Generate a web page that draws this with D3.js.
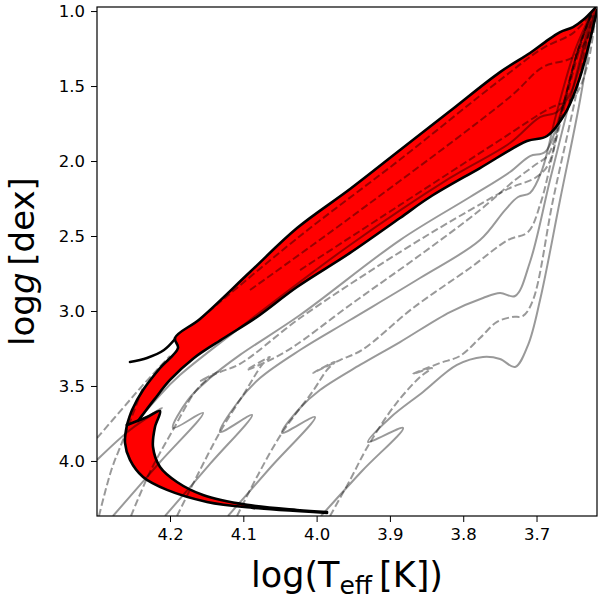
<!DOCTYPE html>
<html><head><meta charset="utf-8">
<script src="https://cdn.jsdelivr.net/npm/d3@7"></script>
<style>body{margin:0;background:#fff}svg{display:block}text{font-family:"DejaVu Sans",sans-serif;fill:#000}</style>
</head><body><svg id="c" width="598" height="601"></svg>
<script>
// ---- axis ticks ----
const xTicks = [4.2, 4.1, 4.0, 3.9, 3.8, 3.7];
const yTicks = [1.0, 1.5, 2.0, 2.5, 3.0, 3.5, 4.0];
const xLimits = [4.2996, 3.6175];
const yLimits = [0.973, 4.367];

// ---- red band boundaries (logTeff, logg) ----
const edgeOuterUpper = [[4.2587,3.760],[4.2518,3.660],[4.2368,3.527],[4.2136,3.380],[4.1891,3.247],[4.1932,3.180],[4.1591,3.053],[4.0909,2.740],[4.0267,2.447],[3.9544,2.187],[3.8862,1.927],[3.8180,1.667],[3.7498,1.407],[3.7089,1.280],[3.6884,1.207],[3.6679,1.140],[3.6502,1.107],[3.6366,1.060],[3.6202,0.980]];
const edgeInnerUpper = [[3.6175,0.993],[3.6270,1.193],[3.6406,1.440],[3.6584,1.660],[3.6857,1.833],[3.7130,1.867],[3.7771,2.047],[3.8453,2.240],[3.8862,2.380],[3.9544,2.613],[4.0267,2.840],[4.0813,3.040],[4.1263,3.180],[4.1673,3.313],[4.2000,3.460],[4.2218,3.593],[4.2355,3.680],[4.2437,3.733]];
const edgeLowerInner = [[4.2587,3.760],[4.2314,3.707],[4.2136,3.667],[4.2205,3.773],[4.2232,3.907],[4.2136,4.040],[4.1905,4.140],[4.1550,4.227],[4.0950,4.293],[4.0267,4.327],[3.9858,4.340]];
const edgeLowerOuter = [[4.2587,3.760],[4.2614,3.880],[4.2546,3.993],[4.2368,4.107],[4.2041,4.193],[4.1495,4.273],[4.0868,4.313],[3.9858,4.347]];
const isoTail = [[4.1932,3.187],[4.2082,3.260],[4.2314,3.313],[4.2546,3.340]];

// ---- grey tracks, solid ----
const trackS1 = [[4.2996,3.993],[4.2546,3.793],[4.2109,3.647],[4.2409,3.727],[4.2136,3.560],[4.1864,3.427],[4.0909,3.060],[3.9544,2.560],[3.8180,2.113],[3.7362,1.880],[3.6952,1.707],[3.6720,1.673],[3.6516,1.527],[3.6338,1.227],[3.6202,0.993]];
const trackS2 = [[4.2778,4.367],[4.2136,4.007],[4.1550,3.680],[4.1959,3.780],[4.1755,3.593],[4.1454,3.447],[4.1045,3.293],[4.0226,3.027],[3.8862,2.527],[3.7907,2.240],[3.7362,2.073],[3.7089,1.967],[3.6884,1.940],[3.6679,1.693],[3.6434,1.260],[3.6229,0.993]];
const trackS3 = [[4.2068,4.367],[4.1454,4.020],[4.0881,3.693],[4.1318,3.807],[4.1072,3.607],[4.0772,3.447],[4.0226,3.260],[3.9544,3.060],[3.8589,2.780],[3.7771,2.527],[3.7430,2.327],[3.7252,2.240],[3.7089,2.213],[3.6925,2.060],[3.6734,1.693],[3.6475,1.260],[3.6243,1.007]];
const trackS4 = [[4.1209,4.367],[4.0636,4.047],[4.0022,3.707],[4.0472,3.813],[4.0226,3.647],[3.9954,3.527],[3.9408,3.360],[3.8862,3.207],[3.8180,3.007],[3.7730,2.913],[3.7498,2.880],[3.7293,2.900],[3.7089,2.673],[3.6816,2.127],[3.6475,1.460],[3.6256,1.027]];
const trackS5 = [[3.9940,4.367],[3.9381,4.067],[3.8821,3.780],[3.9299,3.873],[3.9000,3.713],[3.8548,3.540],[3.8085,3.360],[3.7730,3.307],[3.7498,3.320],[3.7293,3.373],[3.7116,3.227],[3.6952,2.927],[3.6679,2.260],[3.6406,1.593],[3.6216,1.027]];
// ---- grey tracks, dashed ----
const trackD0 = [[4.1591,3.053],[4.0226,2.500],[3.8862,1.990],[3.7498,1.460],[3.6911,1.247],[3.6502,1.147],[3.6270,1.027]];
const trackD1 = [[4.0909,2.860],[3.9585,2.393],[3.7362,1.573],[3.6911,1.373],[3.6502,1.307],[3.6270,1.147],[3.6175,1.000]];
const trackD1b = [[4.0226,2.727],[3.8862,2.293],[3.7498,1.860],[3.6816,1.647],[3.6502,1.580],[3.6311,1.373],[3.6189,1.000]];
const trackD2 = [[4.2532,4.367],[4.2273,4.073],[4.1959,3.793],[4.1659,3.540],[4.1454,3.440],[4.1345,3.407],[4.1591,3.467],[4.1318,3.407],[4.1045,3.353],[4.0226,3.047],[3.8862,2.607],[3.7907,2.327],[3.7362,2.180],[3.7021,2.113],[3.6843,2.027],[3.6652,1.660],[3.6434,1.260],[3.6229,0.993]];
const trackD3 = [[4.1905,4.367],[4.1618,4.087],[4.1318,3.807],[4.0977,3.540],[4.0745,3.360],[4.0636,3.307],[4.0950,3.393],[4.0636,3.327],[4.0322,3.240],[3.9544,2.960],[3.8589,2.627],[3.7771,2.327],[3.7293,2.127],[3.7021,2.027],[3.6843,1.960],[3.6652,1.660],[3.6434,1.260],[3.6243,1.007]];
const trackD4 = [[4.1086,4.367],[4.0800,4.093],[4.0472,3.813],[4.0049,3.533],[3.9858,3.393],[3.9749,3.340],[4.0049,3.413],[3.9681,3.327],[3.9381,3.260],[3.8685,2.980],[3.7907,2.713],[3.7389,2.527],[3.7116,2.473],[3.6952,2.293],[3.6734,1.860],[3.6475,1.360],[3.6270,1.027]];
const trackD5 = [[3.9817,4.367],[3.9544,4.127],[3.9299,3.900],[3.8931,3.627],[3.8589,3.440],[3.8426,3.380],[3.8685,3.420],[3.8317,3.347],[3.8044,3.300],[3.7771,3.180],[3.7539,3.073],[3.7334,3.040],[3.7184,3.033],[3.7048,2.927],[3.6775,2.260],[3.6475,1.593],[3.6243,1.027]];
const trackDL = [[4.2969,4.367],[4.2800,4.060],[4.2641,3.860],[4.2368,3.507]];
const trackDL2 = [[4.2996,3.847],[4.2641,3.647],[4.2368,3.493],[4.2000,3.300]];

const solidTracks = [trackS1, trackS2, trackS3, trackS4, trackS5];
const dashedTracks = [trackD0, trackD1, trackD1b, trackD2, trackD3, trackD4, trackD5, trackDL, trackDL2];

// ---- layout ----
const M = {l: 97, r: 597, t: 7, b: 516};
const svg = d3.select("#c");
const x = d3.scaleLinear().domain(xLimits).range([M.l, M.r]);
const y = d3.scaleLinear().domain(yLimits).range([M.t, M.b]);

svg.append("defs").append("clipPath").attr("id","clip")
  .append("rect").attr("x",M.l).attr("y",M.t).attr("width",M.r-M.l).attr("height",M.b-M.t);

const g = svg.append("g").attr("clip-path","url(#clip)");
const lineC = d3.line().x(d=>x(d[0])).y(d=>y(d[1])).curve(d3.curveCatmullRom.alpha(0.5));

// red region polygon
const poly = edgeOuterUpper.concat(edgeInnerUpper, edgeLowerInner.slice(1), edgeLowerOuter.slice().reverse().slice(1));
g.append("path").attr("d", d3.line().x(d=>x(d[0])).y(d=>y(d[1])).curve(d3.curveCatmullRomClosed.alpha(0.5))(poly))
  .attr("fill","#ff0000").attr("stroke","none");

// grey tracks
solidTracks.forEach(t => g.append("path").attr("d", lineC(t)).attr("fill","none")
  .attr("stroke","#000").attr("stroke-opacity",0.4).attr("stroke-width",2));
dashedTracks.forEach(t => g.append("path").attr("d", lineC(t)).attr("fill","none")
  .attr("stroke","#000").attr("stroke-opacity",0.4).attr("stroke-width",2).attr("stroke-dasharray","7.4,3.2"));

// black outlines
[edgeOuterUpper, edgeInnerUpper, edgeLowerInner, edgeLowerOuter, isoTail].forEach(t =>
  g.append("path").attr("d", lineC(t)).attr("fill","none").attr("stroke","#000")
   .attr("stroke-width",2.6).attr("stroke-linejoin","round").attr("stroke-linecap","round"));

// axes
const xAxis = d3.axisBottom(x).tickValues(xTicks).tickFormat(d3.format(".1f")).tickSizeOuter(0).tickSize(6).tickPadding(6);
const yAxis = d3.axisLeft(y).tickValues(yTicks).tickFormat(d3.format(".1f")).tickSizeOuter(0).tickSize(6).tickPadding(6);
const gx = svg.append("g").attr("transform",`translate(0,${M.b})`).call(xAxis);
const gy = svg.append("g").attr("transform",`translate(${M.l},0)`).call(yAxis);
[gx, gy].forEach(a => { a.select(".domain").remove();
  a.selectAll("text").attr("font-size",16.5).attr("font-family","DejaVu Sans");
  a.selectAll("line").attr("stroke","#000").attr("stroke-width",1); });

svg.append("rect").attr("x",M.l).attr("y",M.t).attr("width",M.r-M.l).attr("height",M.b-M.t)
  .attr("fill","none").attr("stroke","#000").attr("stroke-width",1.2);

// labels
const xl = svg.append("text").attr("x",(M.l+M.r)/2).attr("y",587).attr("text-anchor","middle").attr("font-size",35);
xl.append("tspan").text("log(T");
xl.append("tspan").attr("font-size",25).attr("dy",7).text("eff");
xl.append("tspan").attr("dy",-7).text("\u2009[K])");

const yl = svg.append("text").attr("transform",`translate(34,${(M.t+M.b)/2}) rotate(-90)`).attr("text-anchor","middle").attr("font-size",34);
yl.append("tspan").text("log");
yl.append("tspan").attr("font-style","italic").text("g");
yl.append("tspan").text("\u2009[dex]");
</script></body></html>
